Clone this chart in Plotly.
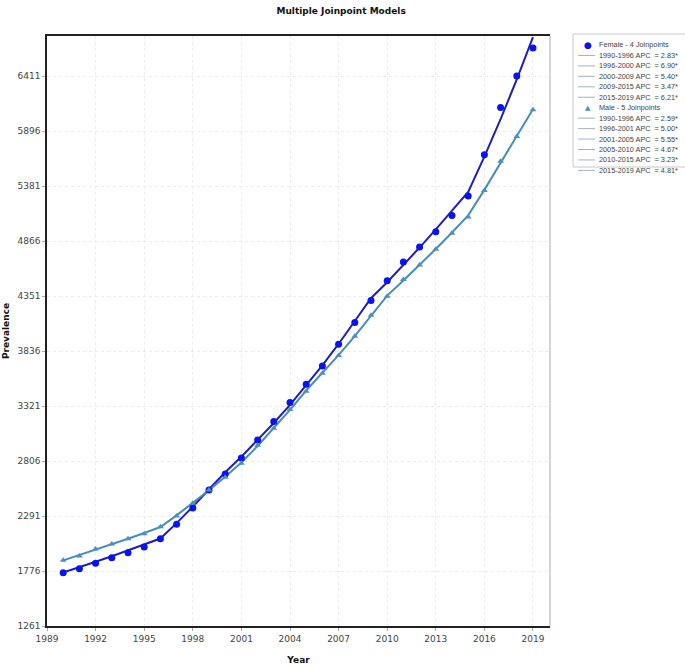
import plotly.graph_objects as go

years = list(range(1990, 2020))

female_obs = [1760, 1798, 1848, 1901, 1948, 2001, 2079, 2213, 2366, 2535,
              2684, 2834, 3003, 3175, 3353, 3525, 3696, 3899, 4102, 4308,
              4495, 4669, 4810, 4953, 5105, 5287, 5675, 6117, 6411, 6674]
female_fit = [1762, 1810, 1862, 1914, 1968, 2024, 2080, 2224, 2378, 2542,
              2700, 2846, 3000, 3162, 3332, 3512, 3702, 3902, 4112, 4330,
              4480, 4640, 4805, 4975, 5148, 5325, 5656, 6007, 6380, 6776]

male_obs = [1876, 1916, 1982, 2029, 2079, 2125, 2191, 2291, 2410, 2535,
            2654, 2785, 2953, 3113, 3288, 3460, 3627, 3793, 3975, 4170,
            4350, 4505, 4641, 4789, 4939, 5090, 5340, 5612, 5846, 6096]
male_fit = [1876, 1925, 1975, 2026, 2078, 2132, 2188, 2297, 2412, 2533,
            2659, 2792, 2947, 3111, 3284, 3466, 3628, 3797, 3975, 4160,
            4355, 4496, 4641, 4791, 4946, 5106, 5345, 5602, 5850, 6100]

female_name = "Female - 4 Joinpoints"
male_name = "Male - 5 Joinpoints"
female_segments = ["1990-1996 APC  = 2.83*", "1996-2000 APC  = 6.90*",
                   "2000-2009 APC  = 5.40*", "2009-2015 APC  = 3.47*",
                   "2015-2019 APC  = 6.21*"]
male_segments = ["1990-1996 APC  = 2.59*", "1996-2001 APC  = 5.00*",
                 "2001-2005 APC  = 5.55*", "2005-2010 APC  = 4.67*",
                 "2010-2015 APC  = 3.23*", "2015-2019 APC  = 4.81*"]

y_ticks = [1261, 1776, 2291, 2806, 3321, 3836, 4351, 4866, 5381, 5896, 6411]
x_ticks = [1989, 1992, 1995, 1998, 2001, 2004, 2007, 2010, 2013, 2016, 2019]

F_LINE = "#1f1fb4"
F_MARK = "#0a14e6"
M_LINE = "#4a8cb8"
M_MARK = "#4f8fbd"
LEG_LINE = "#a3b3c8"

FONT = "DejaVu Sans"
LEG_FONT = "Liberation Sans"

W, H = 685, 665
ML, MR, MT, MB = 47, 135, 36, 39
PW, PH = W - ML - MR, H - MT - MB


def px(xp):
    return (xp - ML) / PW


def py(yp):
    return (H - MB - yp) / PH


fig = go.Figure()

fig.add_trace(go.Scatter(x=years, y=female_fit, mode="lines",
                         line=dict(color=F_LINE, width=2), showlegend=False,
                         hoverinfo="skip"))
fig.add_trace(go.Scatter(x=years, y=male_fit, mode="lines",
                         line=dict(color=M_LINE, width=2), showlegend=False,
                         hoverinfo="skip"))
fig.add_trace(go.Scatter(x=years, y=female_obs, mode="markers",
                         marker=dict(symbol="circle", size=7, color=F_MARK),
                         name=female_name, showlegend=False))
fig.add_trace(go.Scatter(x=years, y=male_obs, mode="markers",
                         marker=dict(symbol="triangle-up", size=6, color=M_MARK),
                         name=male_name, showlegend=False))

# Custom compact legend
rows = [("f", female_name)] + [("l", s) for s in female_segments] + \
       [("m", male_name)] + [("l", s) for s in male_segments]
shapes = [
    dict(type="line", xref="paper", yref="paper", x0=1, x1=1, y0=0, y1=1,
         line=dict(color="#aaaaaa", width=1)),
    dict(type="rect", xref="paper", yref="paper", x0=px(573), x1=px(690),
         y0=py(167), y1=py(34), line=dict(color="#c8c8c8", width=1),
         fillcolor="white", layer="below"),
]
annotations = []
row_y0, row_dy = 45, 10.45
for i, (kind, label) in enumerate(rows):
    yy = py(row_y0 + i * row_dy)
    if kind == "l":
        shapes.append(dict(type="line", xref="paper", yref="paper",
                           x0=px(578), x1=px(595), y0=yy, y1=yy,
                           line=dict(color=LEG_LINE, width=1)))
    else:
        sym = "\u25cf" if kind == "f" else "\u25b2"
        col = F_MARK if kind == "f" else M_MARK
        sz = 9 if kind == "f" else 7
        annotations.append(dict(text=sym, xref="paper", yref="paper", x=px(588),
                                y=yy, xanchor="center", yanchor="middle",
                                showarrow=False,
                                font=dict(size=sz, color=col, family=FONT)))
    annotations.append(dict(text=label, xref="paper", yref="paper", x=px(597),
                            y=yy, xanchor="left", yanchor="middle",
                            showarrow=False,
                            font=dict(size=7.3, color="#444444", family=LEG_FONT)))

fig.update_layout(
    width=W, height=H,
    margin=dict(l=ML, r=MR, t=MT, b=MB),
    paper_bgcolor="white", plot_bgcolor="white",
    font=dict(family=FONT, size=9, color="#444444"),
    title=dict(text="<b>Multiple Joinpoint Models</b>", x=0.498, xanchor="center",
               y=0.983, yanchor="middle", font=dict(size=9, color="#111111")),
    showlegend=False,
    xaxis=dict(range=[1989, 2020.05], tickvals=x_ticks, ticktext=[str(v) for v in x_ticks],
               showline=True, linecolor="#222222", linewidth=1.5, mirror=True,
               showgrid=True, gridcolor="#ebebeb", griddash="dot",
               ticks="outside", ticklen=3, tickcolor="#aaaaaa",
               zeroline=False, automargin=False,
               title=dict(text="<b>Year</b>", font=dict(size=9, color="#111111"), standoff=20)),
    yaxis=dict(range=[1261, 6786], tickvals=y_ticks, ticktext=[str(v) for v in y_ticks],
               showline=True, linecolor="#222222", linewidth=1.5,
               showgrid=True, gridcolor="#ebebeb", griddash="dot",
               ticks="outside", ticklen=3, tickcolor="#aaaaaa",
               zeroline=False, automargin=False,
               title=dict(text="<b>Prevalence</b>", font=dict(size=9, color="#111111"), standoff=6)),
    shapes=shapes,
    annotations=annotations,
)

fig.write_html("out.html")
